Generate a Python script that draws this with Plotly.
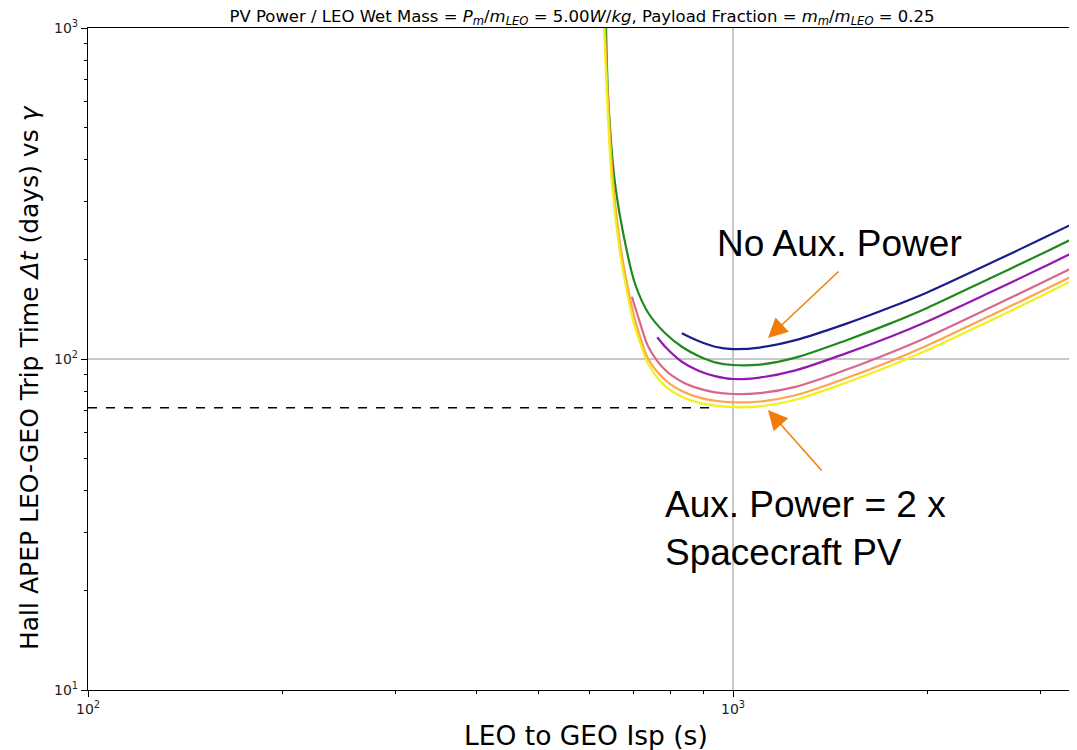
import numpy as np
import plotly.graph_objs as go

# -----------------------------------------------------------
# Data (Isp in s, trip time in days)
# -----------------------------------------------------------

blue_isp = [833, 884, 938, 1000, 1100, 1250, 1500, 1750, 2000, 2500, 3000, 3380]
blue_days = [119.6, 113.3, 108.9, 107.1, 108.3, 114.0, 127.9, 143.0, 158.9, 194.3, 229.9, 257.4]

green_isp = [635.5, 640.7, 656.2, 684, 705, 739, 785, 833, 884, 938, 1000, 1100, 1250,
             1500, 1750, 2000, 2500, 3000, 3380]
green_days = [1000, 606, 339.5, 213.4, 168.5, 137.7, 119.6, 108.9, 102.1, 97.7, 95.9,
              96.2, 101.0, 114.0, 127.9, 142.7, 175.1, 207.2, 232.2]

purple_isp = [763, 785, 833, 884, 938, 1000, 1100, 1250, 1500, 1750, 2000, 2500, 3000, 3380]
purple_days = [116.3, 108.9, 98.1, 92.2, 88.8, 87.0, 87.9, 92.4, 104.2, 116.6, 129.9,
               158.8, 187.9, 210.6]

pink_isp = [697, 718, 739, 785, 833, 884, 938, 1000, 1100, 1250, 1500, 1750, 2000,
            2500, 3000, 3380]
pink_days = [154.2, 128.2, 108.9, 92.6, 85.4, 81.5, 79.3, 78.4, 78.9, 82.4, 92.9,
             104.3, 116.4, 142.8, 169.3, 189.8]

orange_isp = [633, 640, 652, 670.5, 688, 705, 718, 739, 785, 833, 884, 938, 1000, 1100,
              1250, 1500, 1750, 2000, 2500, 3000, 3380]
orange_days = [1000, 606, 339.5, 213.4, 161.6, 131.2, 116.5, 100.0, 86.4, 80.0, 76.6,
               74.8, 74.0, 74.4, 77.7, 87.6, 98.3, 109.9, 134.9, 159.9, 179.2]

yellow_isp = [631, 638, 649, 667, 684, 701, 718, 739, 785, 833, 884, 938, 1000, 1100,
              1250, 1500, 1750, 2000, 2500, 3000, 3380]
yellow_days = [1000, 606, 339.5, 213.4, 161.6, 129.4, 111.8, 96.6, 82.8, 76.9, 73.8,
               72.3, 71.5, 71.9, 75.3, 84.9, 95.2, 106.2, 130.3, 154.7, 173.9]

dash_isp = [100, 931]
dash_days = [71.3, 71.3]

x_tickvals = [100, 1000]
x_ticktext = ["10<sup>2</sup>", "10<sup>3</sup>"]
y_tickvals = [10, 100, 1000]
y_ticktext = ["10<sup>1</sup>", "10<sup>2</sup>", "10<sup>3</sup>"]

series = [
    ("No Aux. Power", blue_isp, blue_days, "#1c1c8c"),
    ("Aux 1", green_isp, green_days, "#1e8a1e"),
    ("Aux 2", purple_isp, purple_days, "#9318b0"),
    ("Aux 3", pink_isp, pink_days, "#d8688a"),
    ("Aux 4", orange_isp, orange_days, "#ffa44c"),
    ("Aux 5", yellow_isp, yellow_days, "#f0f01e"),
]

# page body has an 8px margin, so the figure is shrunk/shifted to compensate
W, H, OFF = 1077, 750, 8
PLOT_L, PLOT_T, PLOT_B = 88, 28, 690

fig = go.Figure()

for name, x, y, color in series:
    fig.add_trace(
        go.Scatter(
            x=x,
            y=y,
            mode="lines",
            name=name,
            line=dict(color=color, width=2.2, shape="spline", smoothing=0.9),
        )
    )

fig.add_trace(
    go.Scatter(
        x=dash_isp,
        y=dash_days,
        mode="lines",
        name="min",
        line=dict(color="black", width=1.5, dash="dash"),
    )
)

# -----------------------------------------------------------
# Annotations
# -----------------------------------------------------------

def px_x(px):
    return (px - PLOT_L) / (W - PLOT_L)

def px_y(py):
    return (PLOT_B - py) / (PLOT_B - PLOT_T)

arrow_color = "#f07d0a"
big_font = dict(family="Liberation Sans, Arial", size=37, color="black")

fig.add_annotation(
    x=px_x(715), y=px_y(243), xref="paper", yref="paper",
    text="No Aux. Power", showarrow=False,
    xanchor="left", yanchor="middle", font=big_font,
)
fig.add_annotation(
    x=px_x(663), y=px_y(528), xref="paper", yref="paper",
    text="Aux. Power = 2 x<br>Spacecraft PV", showarrow=False,
    xanchor="left", yanchor="middle", align="left", font=big_font,
)
fig.add_annotation(
    x=np.log10(1133), y=np.log10(115.7), xref="x", yref="y",
    text="", showarrow=True, arrowhead=2, arrowsize=2.6, arrowwidth=1.5,
    arrowcolor=arrow_color, ax=72, ay=-68, standoff=0,
)
fig.add_annotation(
    x=np.log10(1133), y=np.log10(70.1), xref="x", yref="y",
    text="", showarrow=True, arrowhead=2, arrowsize=2.6, arrowwidth=1.5,
    arrowcolor=arrow_color, ax=55, ay=62, standoff=0,
)

# axis titles placed as annotations for exact positions
fig.add_annotation(
    x=px_x(586), y=px_y(735), xref="paper", yref="paper",
    text="LEO to GEO Isp (s)", showarrow=False,
    xanchor="center", yanchor="middle",
    font=dict(family="DejaVu Sans", size=26.5, color="black"),
)
fig.add_annotation(
    x=px_x(30), y=px_y(378), xref="paper", yref="paper",
    text="Hall APEP LEO-GEO Trip Time <i>Δt</i> (days) vs <i>γ</i>", showarrow=False,
    textangle=-90, xanchor="center", yanchor="middle",
    font=dict(family="DejaVu Sans", size=25, color="black"),
)

title_text = (
    "PV Power / LEO Wet Mass = <i>P</i><sub><i>m</i></sub>/<i>m</i><sub><i>LEO</i></sub>"
    " = 5.00<i>W</i>/<i>kg</i>, Payload Fraction = "
    "<i>m</i><sub><i>m</i></sub>/<i>m</i><sub><i>LEO</i></sub> = 0.25"
)

axis_common = dict(
    type="log",
    showline=True,
    linecolor="black",
    linewidth=1.2,
    ticks="outside",
    ticklen=6,
    tickcolor="black",
    showgrid=True,
    gridcolor="#c8c8c8",
    gridwidth=1.5,
    zeroline=False,
    automargin=False,
    tickfont=dict(family="DejaVu Sans", size=14, color="#222222"),
    minor=dict(ticks="outside", ticklen=3, tickcolor="black", dtick="D1", showgrid=False),
)

fig.update_layout(
    width=W - OFF,
    height=H - OFF,
    margin=dict(l=PLOT_L - OFF, r=0, t=PLOT_T - OFF, b=H - PLOT_B),
    paper_bgcolor="white",
    plot_bgcolor="white",
    showlegend=False,
    font=dict(family="DejaVu Sans", color="black"),
    title=dict(
        text=title_text,
        x=(582 - OFF) / (W - OFF),
        xanchor="center",
        y=1 - (16 - OFF) / (H - OFF),
        yanchor="middle",
        font=dict(family="DejaVu Sans", size=16.5, color="black"),
    ),
    xaxis=dict(
        axis_common,
        range=[2, 3.5333],
        mirror=True,
        tickmode="array",
        tickvals=x_tickvals,
        ticktext=x_ticktext,
    ),
    yaxis=dict(
        axis_common,
        range=[1, 3],
        tickmode="array",
        tickvals=y_tickvals,
        ticktext=y_ticktext,
    ),
)

fig.write_html("out.html")
